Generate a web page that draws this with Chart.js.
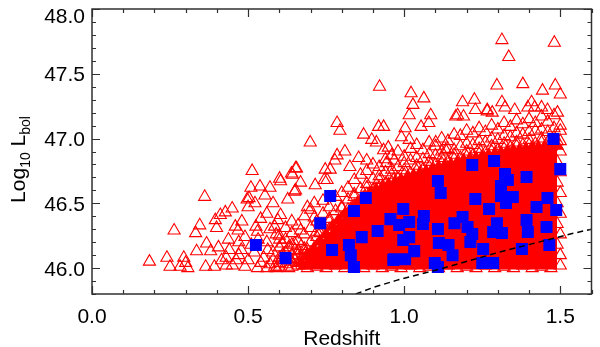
<!DOCTYPE html>
<html>
<head>
<meta charset="utf-8">
<script src="https://cdn.jsdelivr.net/npm/chart.js@4.4.0/dist/chart.umd.min.js"></script>
<style>
html, body { margin: 0; padding: 0; background: #fff; }
</style>
</head>
<body>
<canvas id="lbol" width="600" height="347"></canvas>
<script>
// axis ticks
const xTicks = [0.0, 0.5, 1.0, 1.5];
const xTickLabels = ['0.0', '0.5', '1.0', '1.5'];
const yTicks = [46.0, 46.5, 47.0, 47.5, 48.0];
const yTickLabels = ['46.0', '46.5', '47.0', '47.5', '48.0'];

// blue squares (sub-sample)
const sampleZ = [0.763,0.525,0.620,0.731,0.839,0.877,0.864,0.915,0.956,0.769,0.823,0.829,0.839,0.965,1.478,1.500,1.218,1.288,1.323,1.332,1.392,1.108,1.117,1.310,1.310,1.348,1.228,1.326,1.272,0.997,1.016,1.063,1.060,0.984,1.108,1.161,1.187,1.203,1.218,1.297,1.285,1.313,1.392,1.396,1.424,1.459,1.487,1.456,1.016,0.997,1.111,1.142,1.212,1.032,1.155,1.253,1.377,1.465,0.968,1.003,1.098,1.108,1.250,1.285];
const sampleL = [46.556,46.178,46.077,46.347,46.440,46.541,46.239,46.286,46.378,46.139,46.178,46.100,46.008,46.062,46.996,46.764,46.795,46.826,46.726,46.680,46.703,46.672,46.579,46.633,46.556,46.548,46.533,46.502,46.456,46.456,46.355,46.402,46.340,46.332,46.301,46.347,46.394,46.317,46.263,46.347,46.278,46.270,46.371,46.278,46.471,46.541,46.448,46.317,46.239,46.216,46.193,46.178,46.201,46.131,46.100,46.147,46.147,46.178,46.069,46.069,46.039,46.008,46.039,46.039];

// red triangles (parent sample), [z, logL]
const triLeft = [[0.184,46.05],[0.240,46.08],[0.263,46.29],[0.250,46.01],[0.294,46.08],[0.300,46.04],[0.307,46.00],[0.282,46.01],[0.332,46.27],[0.345,46.33],[0.361,46.55],[0.335,46.13],[0.364,46.01],[0.367,46.19],[0.380,46.13],[0.395,46.37],[0.399,46.31],[0.411,46.41],[0.427,46.43],[0.449,46.46],[0.392,46.01],[0.405,46.16],[0.415,46.06],[0.430,46.08],[0.437,46.22],[0.459,46.32],[0.468,46.29],[0.462,46.06],[0.478,46.14],[0.490,46.24],[0.490,46.01],[0.497,46.53],
  [0.45,46.02],[0.47,46.10],[0.50,46.06],[0.52,46.12],[0.53,46.00],[0.55,46.08],[0.56,46.20],[0.57,46.03],[0.58,46.12],[0.59,46.26],[0.51,46.18],[0.44,46.14],[0.48,46.36],[0.53,46.28],[0.56,46.42],[0.58,46.50],[0.43,46.02],[0.47,46.20],[0.54,46.38],[0.57,46.30]];
const triOuter = [[0.921,47.40],[0.785,47.12],[0.794,47.06],[0.699,46.97],[0.870,47.03],[0.918,47.09],[0.934,47.09],[0.896,46.99],[0.911,46.97],[0.949,46.93],[0.785,46.87],[0.810,46.90],[0.854,46.85],[0.880,46.83],[0.968,46.83],[0.747,46.76],[0.652,46.77],[0.642,46.72],[0.601,46.69],[0.513,46.75],[0.509,46.62],[0.538,46.63],[0.570,46.62],[0.668,46.66],[0.715,46.64],[0.744,46.68],[0.763,46.76],[0.826,46.78],[0.934,46.91],[0.943,46.81],[0.965,46.68],[0.649,46.59],[0.690,46.47],[0.712,46.39],[0.595,46.37],[0.604,46.67],[0.639,46.73],[0.655,46.77],[0.554,46.56],[0.503,46.54],[0.522,46.50],[0.500,46.47],[0.525,46.32],[0.532,46.22],[0.627,46.53],[0.652,46.60],[0.753,46.68],[0.778,46.83],[0.604,46.41],[0.585,46.32],[0.601,46.22],[0.563,46.14],[0.541,46.04],[0.585,46.01],[0.627,46.06],[0.649,46.19],[0.668,46.29],[0.712,46.50],[0.731,46.27],[0.690,46.14],
  [1.313,47.76],[1.335,47.63],[1.481,47.74],[1.380,47.42],[1.297,47.41],[1.484,47.41],[1.443,47.37],[1.022,47.35],[1.063,47.31],[1.028,47.26],[1.016,47.18],[1.003,47.08],[1.187,47.28],[1.225,47.30],[1.266,47.22],[1.313,47.28],[1.408,47.28],[1.500,47.34],
  [1.079,47.12],[1.054,47.09],[1.165,47.17],[1.190,47.17],[1.228,47.22],[1.282,47.20],[1.354,47.22],[1.396,47.24],[1.440,47.24],[1.459,47.22],[1.491,47.20],[0.991,47.01],[1.016,46.99],[1.085,47.18],[1.171,47.18],[1.266,47.21],[1.323,47.24],[1.418,47.24],[1.101,46.97],[1.133,46.91]];
const triBand = [[0.60,46.08],[0.60,46.16],[0.60,46.25],[0.62,46.12],[0.62,46.22],[0.62,46.31],[0.64,46.05],[0.64,46.18],[0.64,46.27],[0.64,46.36],[0.66,46.10],[0.66,46.21],[0.66,46.33],[0.68,46.07],[0.68,46.15],[0.68,46.26],[0.68,46.40],[0.70,46.11],[0.70,46.20],[0.70,46.31],[0.70,46.45],[0.72,46.17],[0.72,46.28],[0.72,46.36],[0.74,46.22],[0.74,46.33],[0.74,46.42],[0.74,46.52],[0.76,46.30],[0.76,46.38],[0.76,46.47],[0.78,46.33],[0.78,46.44],[0.78,46.55],[0.80,46.38],[0.80,46.47],[0.80,46.58],[0.82,46.45],[0.82,46.53],[0.82,46.62],[0.84,46.48],[0.84,46.57],[0.84,46.68],[0.86,46.52],[0.86,46.61],[0.86,46.72],[0.88,46.57],[0.88,46.65],[0.88,46.75],[0.90,46.60],[0.90,46.69],[0.90,46.80],[0.92,46.62],[0.92,46.71],[0.92,46.78],[0.94,46.65],[0.94,46.74],[0.94,46.84],[0.96,46.66],[0.96,46.76],[0.96,46.87],[0.98,46.69],[0.98,46.78],[0.98,46.90],[1.00,46.72],[1.00,46.81],[1.00,46.86],[1.02,46.73],[1.02,46.83],[1.02,46.92],[1.04,46.75],[1.04,46.85],[1.04,46.95],[1.06,46.76],[1.06,46.84],[1.06,46.91],[1.08,46.78],[1.08,46.88],[1.08,46.97],[1.10,46.80],[1.10,46.87],[1.10,46.94],[1.12,46.81],[1.12,46.90],[1.12,47.00],[1.14,46.82],[1.14,46.92],[1.14,46.98],[1.16,46.84],[1.16,46.91],[1.16,47.03],[1.18,46.85],[1.18,46.94],[1.18,47.02],[1.20,46.86],[1.20,46.96],[1.20,47.06],[1.22,46.87],[1.22,46.95],[1.22,47.04],[1.24,46.88],[1.24,46.98],[1.24,47.08],[1.26,46.89],[1.26,46.97],[1.26,47.05],[1.28,46.90],[1.28,47.00],[1.28,47.10],[1.30,46.91],[1.30,46.99],[1.30,47.07],[1.32,46.92],[1.32,47.02],[1.32,47.12],[1.34,46.93],[1.34,47.01],[1.34,47.09],[1.36,46.94],[1.36,47.04],[1.36,47.14],[1.38,46.95],[1.38,47.03],[1.38,47.11],[1.40,46.95],[1.40,47.05],[1.40,47.15],[1.42,46.96],[1.42,47.06],[1.42,47.12],[1.44,46.97],[1.44,47.07],[1.44,47.17],[1.46,46.97],[1.46,47.05],[1.46,47.13],[1.48,46.98],[1.48,47.08],[1.48,47.18],[1.50,46.98],[1.50,47.10],
  [0.68,46.13],[0.72,46.24],[0.76,46.36],[0.80,46.46],[0.84,46.55],[0.88,46.62],[0.92,46.68],[0.96,46.72],[1.00,46.755],[1.04,46.79],[1.08,46.82],[1.12,46.85],[1.16,46.875],[1.20,46.90],[1.24,46.92],[1.28,46.94],[1.32,46.96],[1.36,46.97],[1.40,46.99],[1.44,47.00],[1.48,47.01]];
// heavily overlapped triangles sitting on the upper rim of the crowded part
const triRim = [[0.67,46.04],[0.69,46.09],[0.71,46.145],[0.73,46.205],[0.75,46.26],[0.77,46.32],[0.79,46.37],[0.81,46.415],[0.83,46.46],[0.85,46.50],[0.87,46.54],[0.89,46.58],[0.91,46.605],[0.93,46.625],[0.95,46.645],[0.97,46.66],[0.99,46.68],[1.01,46.70],[1.03,46.715],[1.05,46.73],[1.07,46.745],[1.09,46.76],[1.11,46.78],[1.13,46.79],[1.15,46.80],[1.17,46.815],[1.19,46.83],[1.21,46.84],[1.23,46.85],[1.25,46.86],[1.27,46.87],[1.29,46.88],[1.31,46.89],[1.33,46.90],[1.35,46.905],[1.37,46.91],[1.39,46.92],[1.41,46.93],[1.43,46.93],[1.45,46.935],[1.47,46.94],[1.49,46.945]];
const triEdge = [[0.60,46.01],[0.63,46.00],[0.66,46.02],[0.69,46.00],[0.72,46.01],[0.75,46.00],[0.78,46.02],[0.81,46.00],[0.84,46.01],[0.87,46.00],[0.90,46.02],[0.93,46.00],[0.96,46.01],[0.99,46.00],[1.02,46.02],[1.05,46.00],[1.08,46.01],[1.11,46.00],[1.14,46.02],[1.17,46.00],[1.20,46.01],[1.23,46.00],[1.26,46.02],[1.29,46.00],[1.32,46.01],[1.35,46.00],[1.38,46.02],[1.41,46.00],[1.44,46.01],[1.47,46.00],[1.50,46.02],
  [1.50,46.10],[1.49,46.18],[1.50,46.26],[1.49,46.34],[1.50,46.42],[1.49,46.50],[1.50,46.58],[1.49,46.66],[1.50,46.74],[1.49,46.82],[1.50,46.90],[1.49,46.98],[1.50,47.06],
  [0.60,46.04],[0.62,46.03],[0.64,46.10],[0.66,46.04],[0.68,46.02],[0.70,46.05],[0.65,46.14],[0.63,46.08],[0.67,46.17],[0.61,46.19],[0.69,46.10],[0.71,46.04],
  [0.56,46.00],[0.58,46.06],[0.59,46.00],[0.61,46.10],[0.62,46.06],[0.63,46.16],[0.64,46.01],[0.65,46.07],[0.66,46.13],[0.67,46.06],[0.68,46.10],[0.69,46.03],[0.71,46.09],[0.73,46.05],[0.74,46.12],[0.76,46.08],[0.77,46.17],[0.79,46.10]];

// envelope of the crowded part where the triangles merge into solid red
const coreZ = [0.66, 0.70, 0.74, 0.78, 0.84, 0.90, 0.96, 1.04, 1.12, 1.20, 1.30, 1.40, 1.49];
const coreTop = [46.00, 46.10, 46.22, 46.33, 46.47, 46.58, 46.64, 46.71, 46.77, 46.82, 46.87, 46.91, 46.93];
const coreBase = 45.99;

// dashed flux-limit curve
const limitZ = [0.845, 0.90, 0.975, 1.111, 1.30, 1.535, 1.60];
const limitL = [45.80, 45.85, 45.905, 45.99, 46.12, 46.265, 46.30];

const FONT = '"Liberation Sans", Arial, Helvetica, sans-serif';

const toXY = p => ({x: p[0], y: p[1]});
const triangles = triLeft.concat(triOuter, triBand, triEdge).map(toXY);
const rim = triRim.map(toXY);
const squares = sampleZ.map((z, i) => ({x: z, y: sampleL[i]}));
const core = coreZ.map((z, i) => ({x: z, y: coreTop[i]}));
const limit = limitZ.map((z, i) => ({x: z, y: limitL[i]}));

const frame = {
    id: 'frame',
    afterDatasetsDraw(chart) {
        const {ctx, chartArea: a, scales: {x, y}} = chart;
        ctx.save();
        ctx.strokeStyle = '#303030';
        ctx.lineWidth = 1.5;
        ctx.strokeRect(a.left, a.top, a.right - a.left, a.bottom - a.top);

        // inward ticks on all four sides
        ctx.lineWidth = 1.2;
        ctx.beginPath();
        for (let i = 0; i <= 16; i++) {
            const px = Math.round(x.getPixelForValue(i / 10)) + 0.5;
            const len = i % 5 === 0 ? 8 : 4;
            ctx.moveTo(px, a.bottom); ctx.lineTo(px, a.bottom - len);
            ctx.moveTo(px, a.top); ctx.lineTo(px, a.top + len);
        }
        for (let i = 0; i <= 22; i++) {
            const py = Math.round(y.getPixelForValue(45.8 + i / 10)) + 0.5;
            const len = (i - 2) % 5 === 0 ? 8 : 4;
            ctx.moveTo(a.left, py); ctx.lineTo(a.left + len, py);
            ctx.moveTo(a.right, py); ctx.lineTo(a.right - len, py);
        }
        ctx.stroke();

        // tick labels
        ctx.fillStyle = '#000';
        ctx.font = '21px ' + FONT;
        ctx.textBaseline = 'alphabetic';
        ctx.textAlign = 'right';
        yTicks.forEach((v, i) => {
            const py = Math.max(y.getPixelForValue(v), a.top + 6);
            ctx.fillText(yTickLabels[i], a.left - 7, py + 7.5);
        });
        ctx.textAlign = 'center';
        xTicks.forEach((v, i) => {
            ctx.fillText(xTickLabels[i], x.getPixelForValue(v), a.bottom + 29);
        });
        ctx.fillText('Redshift', (a.left + a.right) / 2, a.bottom + 51);

        // y title with subscripts
        const parts = [['Log', 21, 0], ['10', 14, 5], [' L', 21, 0], ['bol', 14, 5]];
        let w = 0;
        parts.forEach(p => { ctx.font = p[1] + 'px ' + FONT; w += ctx.measureText(p[0]).width; });
        ctx.translate(25, (a.top + a.bottom) / 2 + 8);
        ctx.rotate(-Math.PI / 2);
        ctx.textAlign = 'left';
        let cx = -w / 2;
        parts.forEach(p => {
            ctx.font = p[1] + 'px ' + FONT;
            ctx.fillText(p[0], cx, p[2]);
            cx += ctx.measureText(p[0]).width;
        });
        ctx.restore();
    }
};

new Chart(document.getElementById('lbol'), {
    type: 'scatter',
    data: {
        datasets: [
            {
                label: 'limit',
                data: limit,
                showLine: true,
                borderColor: '#000',
                borderWidth: 1.5,
                borderDash: [6, 4],
                pointRadius: 0,
                fill: false
            },
            {
                label: 'sample',
                data: squares,
                pointStyle: 'rect',
                pointRadius: 8.5,
                backgroundColor: '#0000ff',
                borderWidth: 0
            },
            {
                label: 'parent',
                data: triangles,
                pointStyle: 'triangle',
                pointRadius: 7,
                backgroundColor: 'rgba(0,0,0,0)',
                borderColor: '#ff0000',
                borderWidth: 1.1
            },
            {
                label: 'rim',
                data: rim,
                pointStyle: 'triangle',
                pointRadius: 7,
                backgroundColor: '#ff0000',
                borderColor: '#ff0000',
                borderWidth: 1.1
            },
            {
                label: 'core',
                data: core,
                showLine: true,
                borderWidth: 0,
                borderColor: '#ff0000',
                backgroundColor: '#ff0000',
                pointRadius: 0,
                fill: {value: coreBase}
            }
        ]
    },
    options: {
        responsive: false,
        animation: false,
        devicePixelRatio: 1,
        layout: {padding: {left: 92, right: 2, top: 9, bottom: 53}},
        plugins: {legend: {display: false}, tooltip: {enabled: false}},
        scales: {
            x: {type: 'linear', min: 0, max: 1.6, display: false},
            y: {type: 'linear', min: 45.8, max: 48.0, display: false}
        }
    },
    plugins: [frame]
});
</script>
</body>
</html>
